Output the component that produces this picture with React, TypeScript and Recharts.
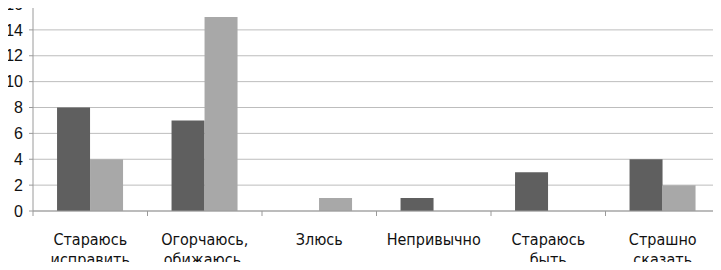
import React from 'react';
import { BarChart, Bar, XAxis, YAxis, CartesianGrid } from 'recharts';

const labelLine1 = ['Стараюсь', 'Огорчаюсь,', 'Злюсь', 'Непривычно', 'Стараюсь', 'Страшно'];
const labelLine2 = ['исправить', 'обижаюсь,', '', '', 'быть', 'сказать'];
const seriesDark = [8, 7, 0, 1, 3, 4];
const seriesLight = [4, 15, 1, 0, 0, 2];
const yTicks = [0, 2, 4, 6, 8, 10, 12, 14, 16];

const data = labelLine1.map((name, i) => ({
    name,
    second: labelLine2[i],
    dark: seriesDark[i],
    light: seriesLight[i],
}));

const labelFont = '"Liberation Sans Narrow", "DejaVu Sans Condensed", sans-serif';

const CategoryTick = (props: any) => {
    const { x, payload, index } = props;
    const half = payload.offset || 0;
    const last = index === labelLine1.length - 1;
    // axis line sits at the top of the tick area
    const axisY = props.y - 8;
    return (
        <g>
            <line x1={x - half} x2={x - half} y1={axisY} y2={axisY + 5} stroke="#9a9a9a" />
            {last && <line x1={x + half} x2={x + half} y1={axisY} y2={axisY + 5} stroke="#9a9a9a" />}
            <text x={x} y={axisY} textAnchor="middle" fontFamily={labelFont} fontSize={16} fill="#111">
                <tspan x={x} dy={34}>{labelLine1[index]}</tspan>
                <tspan x={x} dy={20}>{labelLine2[index]}</tspan>
            </text>
        </g>
    );
};

const App: React.FC = () => {
    return (
        <div style={{ margin: -8, width: 721, height: 270, overflow: 'hidden', background: '#fff' }}>
            <BarChart
                width={721}
                height={270}
                data={data}
                margin={{ top: 4, right: 1, left: 0, bottom: 0 }}
                barCategoryGap="21%"
                barGap={0}
            >
                <CartesianGrid vertical={false} stroke="#bdbdbd" />
                <XAxis
                    dataKey="name"
                    height={59}
                    interval={0}
                    tickLine={false}
                    tickSize={3}
                    tickMargin={5}
                    stroke="#9a9a9a"
                    tick={<CategoryTick />}
                />
                <YAxis
                    width={33}
                    domain={[0, 16]}
                    ticks={yTicks}
                    interval={0}
                    stroke="#9a9a9a"
                    tickSize={4}
                    tickMargin={6}
                    tick={{ fill: '#111', fontSize: 16, fontFamily: '"Liberation Sans", Arial, sans-serif' }}
                />
                <Bar dataKey="dark" fill="#5f5f5f" isAnimationActive={false} />
                <Bar dataKey="light" fill="#a8a8a8" isAnimationActive={false} />
            </BarChart>
        </div>
    );
};

export default App;
